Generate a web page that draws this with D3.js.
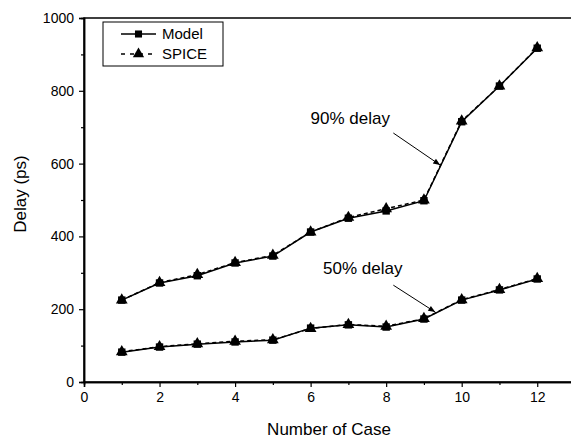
<!DOCTYPE html>
<html><head><meta charset="utf-8">
<script src="https://cdn.jsdelivr.net/npm/d3@7"></script>
<style>body{margin:0;background:#fff}text{font-family:"Liberation Sans",Arial,sans-serif}</style>
</head><body><svg id="c" width="571" height="439"></svg>
<script>
const cases = [1,2,3,4,5,6,7,8,9,10,11,12];
const model90 = [225,272,292,327,346,412,450,470,498,715,813,917];
const spice90 = [225,273,295,328,348,412,452,476,500,717,813,918];
const model50 = [82,96,104,110,115,148,157,151,173,225,253,283];
const spice50 = [83,97,105,112,116,147,158,153,174,226,254,284];
const xTicks = [0,2,4,6,8,10,12];
const yTicks = [0,200,400,600,800,1000];
const legendLabels = ["Model","SPICE"];
const annotations = [
  {label:"90% delay", tx:6.0, ty:725, x1:8.19, y1:684, x2:9.43, y2:596},
  {label:"50% delay", tx:6.33, ty:313, x1:8.19, y1:266, x2:9.3, y2:192}
];

const svg = d3.select("#c");
const L=84, R=575, T=18, B=382;
const x = d3.scaleLinear().domain([0,13]).range([L,R]);
const y = d3.scaleLinear().domain([0,1000]).range([B,T]);

svg.append("defs").append("marker").attr("id","ah").attr("viewBox","0 0 10 10")
  .attr("refX",10).attr("refY",5).attr("markerWidth",9).attr("markerHeight",7)
  .attr("markerUnits","userSpaceOnUse").attr("orient","auto")
  .append("path").attr("d","M0,1 L10,5 L0,9 z").attr("fill","#000");

// frame
svg.append("rect").attr("x",L).attr("y",T).attr("width",R-L).attr("height",B-T)
  .attr("fill","none").attr("stroke","#000").attr("stroke-width",1.5);

// axes
const xa = svg.append("g").attr("transform",`translate(0,${B})`)
  .call(d3.axisBottom(x).tickValues(xTicks).tickSize(5).tickPadding(5).tickFormat(d3.format("d")));
const xm = svg.append("g").attr("transform",`translate(0,${B})`)
  .call(d3.axisBottom(x).tickValues([1,3,5,7,9,11]).tickSize(3).tickFormat(""));
const ya = svg.append("g").attr("transform",`translate(${L},0)`)
  .call(d3.axisLeft(y).tickValues(yTicks).tickSize(5).tickPadding(5).tickFormat(d3.format("d")));
const ym = svg.append("g").attr("transform",`translate(${L},0)`)
  .call(d3.axisLeft(y).tickValues([100,300,500,700,900]).tickSize(3).tickFormat(""));
[xa,xm,ya,ym].forEach(g=>{g.select(".domain").attr("stroke","#000").attr("stroke-width",1.5);
  g.selectAll("line").attr("stroke","#000").attr("stroke-width",1.2);
  g.selectAll("text").attr("font-size",14).attr("fill","#000").style("font-family","Liberation Sans, Arial, sans-serif");});

svg.append("text").attr("x",329).attr("y",435).attr("text-anchor","middle")
  .attr("font-size",17).text("Number of Case");
svg.append("text").attr("transform",`translate(26,194) rotate(-90)`).attr("text-anchor","middle")
  .attr("font-size",17).text("Delay (ps)");

const line = d3.line().x((d,i)=>x(cases[i])).y(d=>y(d));
function drawSeries(vals, dashed, marker){
  svg.append("path").datum(vals).attr("d",line).attr("fill","none").attr("stroke","#000")
    .attr("stroke-width",1.5).attr("stroke-dasharray",dashed?"4,3":null);
  const sym = d3.symbol().type(marker==="sq"?d3.symbolSquare:d3.symbolTriangle).size(marker==="sq"?55:60);
  svg.append("g").selectAll("path").data(vals).join("path")
    .attr("transform",(d,i)=>`translate(${x(cases[i])},${y(d)})`).attr("d",sym).attr("fill","#000");
}
drawSeries(spice90,true,"tri");
drawSeries(spice50,true,"tri");
drawSeries(model90,false,"sq");
drawSeries(model50,false,"sq");

// legend
const lg = svg.append("g");
lg.append("rect").attr("x",103).attr("y",22).attr("width",120).attr("height",44)
  .attr("fill","#fff").attr("stroke","#000").attr("stroke-width",1);
legendLabels.forEach((lab,i)=>{
  const yy = 34 + i*20;
  lg.append("line").attr("x1",121).attr("x2",156).attr("y1",yy).attr("y2",yy)
    .attr("stroke","#000").attr("stroke-width",1.5).attr("stroke-dasharray",i?"4,5":null);
  lg.append("path").attr("transform",`translate(138.5,${yy})`)
    .attr("d",d3.symbol().type(i?d3.symbolTriangle:d3.symbolSquare).size(i?55:50)()).attr("fill","#000");
  lg.append("text").attr("x",162).attr("y",yy+5).attr("font-size",15).text(lab);
});

// annotations
annotations.forEach(a=>{
  svg.append("text").attr("x",x(a.tx)).attr("y",y(a.ty)+6).attr("font-size",17).text(a.label);
  svg.append("line").attr("x1",x(a.x1)).attr("y1",y(a.y1)).attr("x2",x(a.x2)).attr("y2",y(a.y2))
    .attr("stroke","#000").attr("stroke-width",1).attr("marker-end","url(#ah)");
});
</script></body></html>
